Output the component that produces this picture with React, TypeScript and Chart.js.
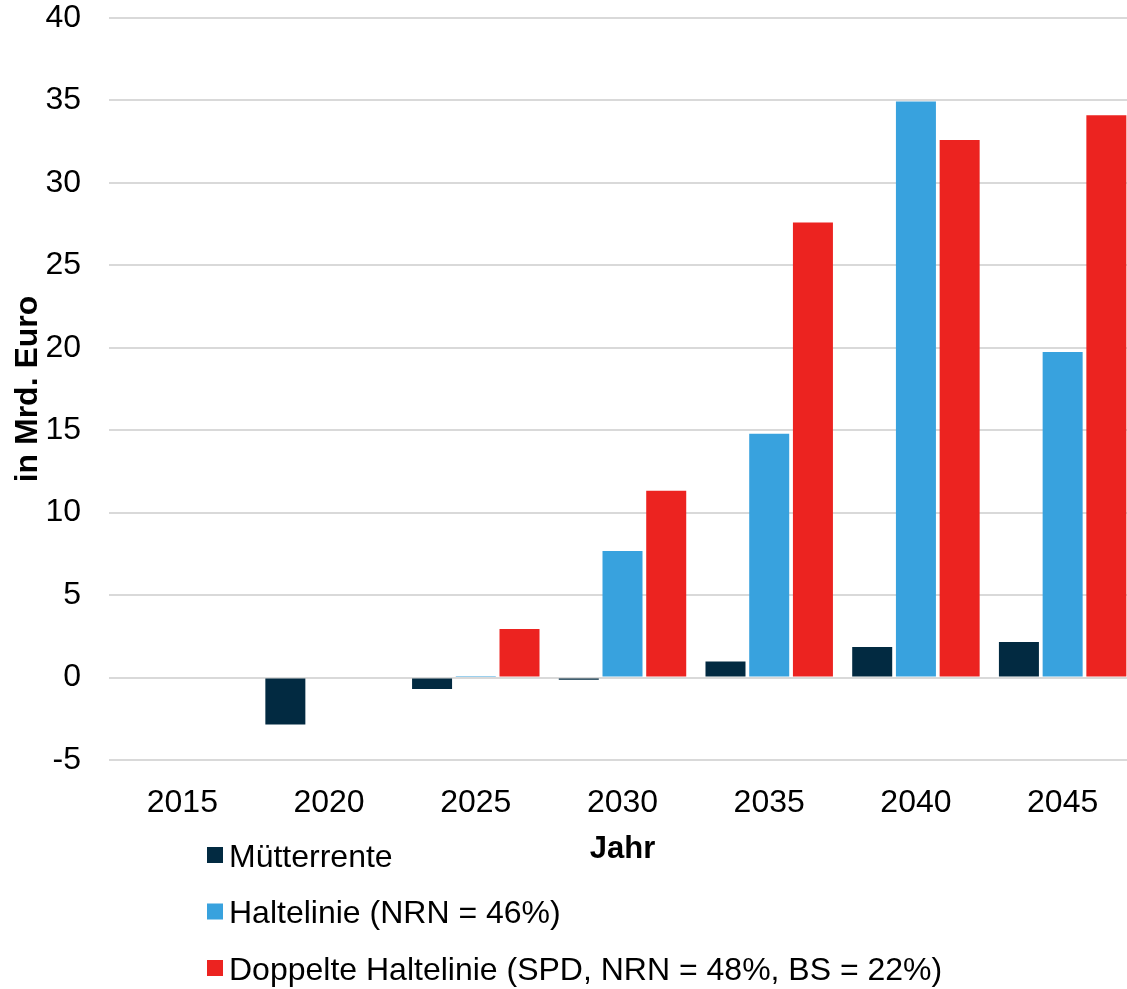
import React, { useEffect, useRef } from "react";
import { Chart, registerables } from "chart.js";

Chart.register(...registerables);

const categories = ["2015", "2020", "2025", "2030", "2035", "2040", "2045"];
const muetterrente = [0, -2.85, -0.7, -0.13, 0.98, 1.86, 2.15];
const haltelinie = [0, -0.05, 0.1, 7.67, 14.78, 34.93, 19.75];
const doppelte = [0, -0.05, 2.95, 11.33, 27.6, 32.6, 34.1];
const seriesLabels = [
  "Mütterrente",
  "Haltelinie (NRN = 46%)",
  "Doppelte Haltelinie (SPD, NRN = 48%, BS = 22%)",
];
const seriesColors = ["#022A41", "#38A2DE", "#EC2320"];

const FONT = "'Liberation Sans', Arial, sans-serif";

const legendPlugin = {
  id: "customLegend",
  afterDraw(chart: any) {
    const ctx = chart.ctx;
    ctx.save();
    ctx.font = `32px ${FONT}`;
    ctx.textBaseline = "middle";
    ctx.textAlign = "left";
    chart.data.datasets.forEach((ds: any, i: number) => {
      const cy = 855 + i * 56.5;
      ctx.fillStyle = ds.backgroundColor;
      ctx.fillRect(207, cy - 8, 16, 16);
      ctx.fillStyle = "#000";
      ctx.fillText(ds.label, 229, cy + 3);
    });
    ctx.restore();
  },
};

export default function App() {
  const ref = useRef<HTMLCanvasElement | null>(null);
  useEffect(() => {
    if (!ref.current) return;
    const values = [muetterrente, haltelinie, doppelte];
    const chart = new Chart(ref.current, {
      type: "bar",
      data: {
        labels: categories,
        datasets: values.map((v, i) => ({
          label: seriesLabels[i],
          data: v,
          backgroundColor: seriesColors[i],
          borderWidth: 0,
          categoryPercentage: 0.894,
          barPercentage: 0.915,
        })),
      },
      options: {
        animation: false,
        responsive: false,
        maintainAspectRatio: false,
        layout: { padding: { top: 18, left: 0, right: 0, bottom: 0 } },
        plugins: { legend: { display: false }, tooltip: { enabled: false } },
        scales: {
          x: {
            grid: { display: false, drawTicks: false },
            border: { display: false },
            ticks: { color: "#000", font: { family: FONT, size: 32 }, padding: 24 },
            title: {
              display: true,
              text: "Jahr",
              color: "#000",
              font: { family: FONT, size: 31, weight: "bold" },
              padding: { top: 0, bottom: 121 },
            },
            afterFit: (s: any) => {
              s.height = 229;
              s.paddingTop = 0;
            },
          },
          y: {
            min: -5,
            max: 40,
            ticks: {
              stepSize: 5,
              color: "#000",
              font: { family: FONT, size: 32 },
              padding: 28,
            },
            grid: { color: "#D9D9D9", lineWidth: 2, drawTicks: false },
            border: { display: false },
            title: {
              display: true,
              text: "in Mrd. Euro",
              color: "#000",
              font: { family: FONT, size: 32, weight: "bold" },
              padding: { top: 9, bottom: 0 },
            },
            afterFit: (s: any) => {
              s.width = 109;
              s.paddingTop = 0;
              s.paddingBottom = 0;
            },
          },
        },
      },
      plugins: [legendPlugin],
    });
    return () => chart.destroy();
  }, []);
  return (
    <div
      style={{
        position: "fixed",
        left: 0,
        top: 0,
        width: 1127,
        height: 989,
        overflow: "hidden",
        background: "#fff",
      }}
    >
      <canvas ref={ref} width={1136} height={989} style={{ display: "block" }} />
    </div>
  );
}
